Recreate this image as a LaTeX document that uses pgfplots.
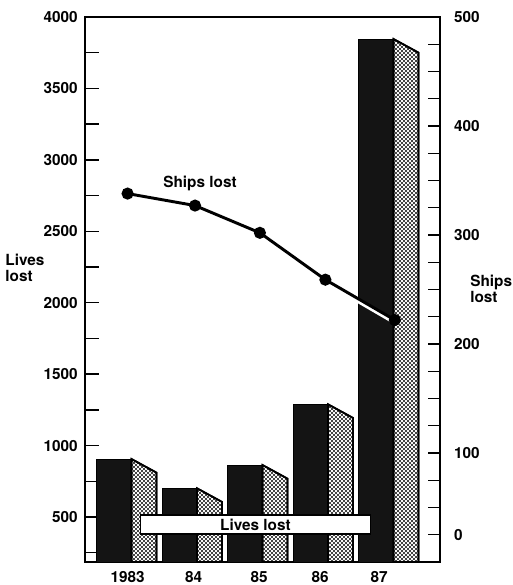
\documentclass[border=0pt]{standalone}
\usepackage{pgfplots}
\pgfplotsset{compat=1.18}
\usepackage{fontspec}
\setmainfont{TeX Gyre Heros}
\usetikzlibrary{patterns}
\newcommand\ff{\fontsize{11.5pt}{12pt}\selectfont\bfseries}
\pgfdeclarepatternformonly{bigdots}{\pgfqpoint{-1pt}{-1pt}}{\pgfqpoint{4pt}{4pt}}{\pgfqpoint{3pt}{3pt}}%
{%
  \pgfpathcircle{\pgfqpoint{0pt}{0pt}}{0.8pt}%
  \pgfpathcircle{\pgfqpoint{1.5pt}{1.5pt}}{0.8pt}%
  \pgfusepath{fill}%
}

\begin{document}
\begin{tikzpicture}
\pgfplotsset{
  base/.style={
    scale only axis, width=266.25pt, height=408.75pt,
    at={(63.75pt,17.25pt)}, anchor=south west,
    xmin=-0.65, xmax=4.77, clip=false,
    /pgf/number format/assume math mode=true,
    /pgf/number format/1000 sep={},
    tick label style={font=\ff},
    axis line style={line width=1.2pt},
    every tick/.style={line width=1.1pt, black},
    tick align=inside,
  },
  front/.style={fill=black!92, draw=black, line width=0.6pt},
  side/.style={fill=white, postaction={pattern=bigdots}, draw=black, line width=1.3pt},
}
% ---------------- left axis : lives lost (bars) ----------------
\begin{axis}[base,
  ymin=185, ymax=4000,
  ytick={500,1000,...,4000},
  minor ytick={250,750,...,3750},
  ytick pos=left,
  major tick length=10.5pt, minor tick length=10.5pt,
  xtick={0,1.01,2.01,2.94,3.84},
  xticklabels={1983,84,85,86,87},
  xtick pos=bottom,
  xtick style={draw=none},
  xticklabel style={yshift=-3.2pt},
  yticklabel style={xshift=-2pt},
]
% 1983
\addplot[front] coordinates {(-0.47,185) (-0.47,906) (0.06,906) (0.06,185)} -- cycle;
\addplot[side]  coordinates {(0.06,185) (0.06,906) (0.44,811) (0.44,185)} -- cycle;
% 84
\addplot[front] coordinates {(0.53,185) (0.53,701) (1.06,701) (1.06,185)} -- cycle;
\addplot[side]  coordinates {(1.06,185) (1.06,701) (1.44,606) (1.44,185)} -- cycle;
% 85
\addplot[front] coordinates {(1.53,185) (1.53,864) (2.06,864) (2.06,185)} -- cycle;
\addplot[side]  coordinates {(2.06,185) (2.06,864) (2.44,769) (2.44,185)} -- cycle;
% 86
\addplot[front] coordinates {(2.53,185) (2.53,1289) (3.06,1289) (3.06,185)} -- cycle;
\addplot[side]  coordinates {(3.06,185) (3.06,1289) (3.44,1194) (3.44,185)} -- cycle;
% 87
\addplot[front] coordinates {(3.53,185) (3.53,3846) (4.06,3846) (4.06,185)} -- cycle;
\addplot[side]  coordinates {(4.06,185) (4.06,3846) (4.44,3751) (4.44,185)} -- cycle;

\node[draw=black, line width=0.8pt, fill=white, minimum width=173pt,
      minimum height=14.25pt, inner sep=0pt, font=\ff]
      at (rel axis cs:0.480,0.0688) {Lives lost};
\node[anchor=west, align=left, font=\ff, inner sep=0pt] at (rel axis cs:-0.225,0.539) {Lives\\lost};
\end{axis}
% ---------------- right axis : ships lost (line) ----------------
\begin{axis}[base,
  ymin=0, ymax=500,
  axis x line=none,
  axis y line*=right,
  ytick={25,50,...,500},
  yticklabels={0,{},{},100,{},{},{},200,{},{},{},300,{},{},{},400,{},{},{},500},
  major tick length=9pt,
  yticklabel style={xshift=7pt},
]
\addplot[white, line width=3pt, yshift=-1.8pt, forget plot]
  coordinates {(0,338) (1.03,327) (2.02,302) (3.02,259) (4.08,222)};
\addplot[black, line width=2.2pt, mark=*, mark size=3.4pt]
  coordinates {(0,338) (1.03,327) (2.02,302) (3.02,259) (4.08,222)};
\node[font=\ff] at (rel axis cs:0.324,0.695) {Ships lost};
\node[anchor=west, align=left, font=\ff, inner sep=0pt] at (rel axis cs:1.0845,0.501) {Ships\\lost};
\end{axis}
\pgfresetboundingbox
\useasboundingbox (0,0) rectangle (384pt,438.75pt);
\end{tikzpicture}
\end{document}
